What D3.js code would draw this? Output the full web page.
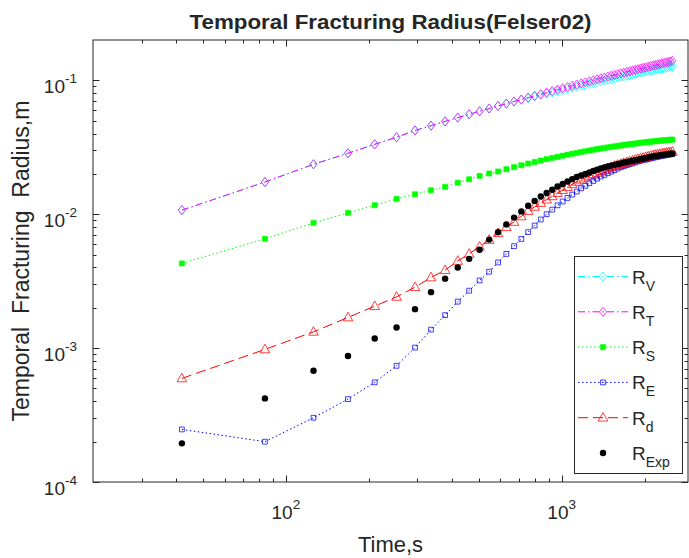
<!DOCTYPE html>
<html><head><meta charset="utf-8">
<script src="https://cdn.jsdelivr.net/npm/d3@7"></script>
<style>
body{margin:0;background:#fff}
svg{display:block}
text{font-family:"Liberation Sans",Arial,sans-serif;fill:#262626}
</style></head>
<body><svg id="chart" width="689" height="558"></svg>
<script>
const time = [42,84,126,168,210,252,294,336,378,420,462,504,546,588,630,672,714,756,798,840,
  882,924,966,1008,1050,1092,1134,1176,1218,1260,1302,1344,1386,1428,1470,1512,1554,1596,1638,1680,
  1722,1764,1806,1848,1890,1932,1974,2016,2058,2100,2142,2184,2226,2268,2310,2352,2394,2436,2478,2520];

const R_V = [0.01072,0.01738,0.0236,0.02851,0.03327,0.03758,0.04217,0.04586,0.04932,0.05262,
  0.05572,0.0587,0.06157,0.06431,0.06694,0.06943,0.07155,0.07365,0.07567,0.07761,
  0.07945,0.08124,0.08305,0.0847,0.08638,0.08801,0.08956,0.09112,0.09258,0.09408,
  0.09546,0.0969,0.09829,0.09954,0.1009,0.1022,0.1034,0.1047,0.1059,0.107,
  0.1083,0.1094,0.1104,0.1116,0.1127,0.1138,0.1148,0.1158,0.1169,0.1179,
  0.1189,0.1199,0.1208,0.1218,0.1227,0.1237,0.1246,0.1254,0.1264,0.1272];

const R_T = [0.01072,0.01738,0.0236,0.02851,0.03327,0.03758,0.04217,0.04586,0.04932,0.05262,
  0.05572,0.0587,0.06157,0.06431,0.06694,0.06948,0.07189,0.0743,0.07664,0.07887,
  0.081,0.08309,0.08522,0.08716,0.08915,0.09106,0.0929,0.09476,0.09652,0.09831,
  0.09998,0.1017,0.1034,0.1049,0.1066,0.1081,0.1096,0.1112,0.1127,0.1141,
  0.1156,0.117,0.1183,0.1197,0.1211,0.1225,0.1238,0.125,0.1263,0.1276,
  0.1289,0.1301,0.1313,0.1325,0.1337,0.1349,0.1361,0.1371,0.1384,0.1394];

const R_S = [0.00429,0.00655,0.00861,0.01023,0.01167,0.013,0.01409,0.0151,0.016,0.01718,
  0.01824,0.01932,0.02014,0.02084,0.02168,0.02246,0.02319,0.02389,0.02456,0.02518,
  0.02576,0.02631,0.02686,0.02735,0.02783,0.02829,0.02871,0.02913,0.02951,0.0299,
  0.03025,0.0306,0.03094,0.03123,0.03153,0.03182,0.03209,0.03236,0.03261,0.03285,
  0.03309,0.0333,0.03351,0.03372,0.03391,0.03412,0.03429,0.03446,0.03462,0.03479,
  0.03495,0.03509,0.03523,0.03537,0.0355,0.03563,0.03575,0.03586,0.03598,0.03608];

const R_E = [0.000247,0.0002,0.000302,0.000416,0.000555,0.000738,0.001009,0.001374,0.001763,0.002223,
  0.002685,0.0032,0.00372,0.00436,0.00505,0.00577,0.00653,0.00735,0.00823,0.00913,
  0.01,0.01082,0.01165,0.01244,0.01323,0.01401,0.01477,0.01561,0.01629,0.01703,
  0.01772,0.01844,0.01911,0.01965,0.02023,0.02079,0.02134,0.02193,0.02243,0.02286,
  0.02325,0.02361,0.02398,0.02435,0.02473,0.02508,0.02533,0.02556,0.02582,0.02609,
  0.02636,0.02658,0.02682,0.02705,0.02724,0.02743,0.02762,0.02776,0.02795,0.02809];

const R_d = [0.000594,0.000978,0.001323,0.001695,0.002058,0.002414,0.002851,0.00337,0.00382,0.00448,
  0.00506,0.00572,0.00642,0.00721,0.008,0.00875,0.00963,0.01056,0.01135,0.01212,
  0.01285,0.0136,0.01439,0.01515,0.01596,0.01675,0.01745,0.01812,0.01872,0.01931,
  0.01988,0.0204,0.02093,0.02141,0.02197,0.0225,0.02297,0.02337,0.02373,0.0241,
  0.02448,0.02482,0.02516,0.02551,0.02582,0.02613,0.0264,0.02668,0.02696,0.02724,
  0.02752,0.02776,0.02795,0.02814,0.02833,0.02852,0.02872,0.02887,0.02907,0.02922];

const R_Exp = [0.0001944,0.000421,0.000677,0.000872,0.001181,0.001427,0.001954,0.002617,0.0033,0.004,
  0.00464,0.00543,0.00646,0.00734,0.00839,0.00943,0.01049,0.01156,0.01257,0.01355,
  0.01439,0.01523,0.01609,0.01683,0.01757,0.01828,0.01894,0.01948,0.01998,0.0205,
  0.02101,0.02152,0.02201,0.02239,0.02274,0.02306,0.02337,0.02369,0.02398,0.02431,
  0.02456,0.02482,0.02508,0.02529,0.02556,0.02582,0.02604,0.02631,0.02658,0.02682,
  0.02705,0.02724,0.02738,0.02752,0.02771,0.02785,0.02799,0.02814,0.02828,0.02843];

const xMajor = [100, 1000];
const xMajorLabels = ["2", "3"];
const yMajor = [1e-4, 1e-3, 1e-2, 1e-1];
const yMajorLabels = ["-4", "-3", "-2", "-1"];
const legendLabels = [["R","V"],["R","T"],["R","S"],["R","E"],["R","d"],["R","Exp"]];

const titleText = "Temporal Fracturing Radius(Felser02)";
const xLabelText = "Time,s";
const yLabelText = "Temporal  Fracturing  Radius,m";

const L = 93, R = 688, T = 40, B = 482;
const svg = d3.select("#chart");
const x = d3.scaleLog().domain([20, 2870]).range([L, R]);
const y = d3.scaleLog().domain([1e-4, 0.2]).range([B, T]);

const xMinor = [], yMinor = [];
for (const d of [10, 100, 1000]) for (let m = 2; m <= 9; m++) { const v = d*m; if (v > 20 && v < 2870) xMinor.push(v); }
for (const d of [1e-4, 1e-3, 1e-2, 1e-1]) for (let m = 2; m <= 9; m++) { const v = d*m; if (v < 0.2) yMinor.push(v); }

const axisColor = "#262626";
const g = svg.append("g");

const series = [
  {name:"V", data:R_V, color:"#00ffff", dash:"7,3,1.5,3", marker:"diamond", fill:"none"},
  {name:"T", data:R_T, color:"#ff00ff", dash:"7,3,1.5,3", marker:"diamond", fill:"none"},
  {name:"S", data:R_S, color:"#00ff00", dash:"1.5,2.5", marker:"square", fill:"#00ff00"},
  {name:"E", data:R_E, color:"#0000ff", dash:"1.5,2.5", marker:"smallsquare", fill:"none"},
  {name:"d", data:R_d, color:"#ff0000", dash:"10,5", marker:"triangle", fill:"none"},
  {name:"Exp", data:R_Exp, color:"#000000", dash:null, marker:"dot", fill:"#000000"}
];

function markerPath(type) {
  switch (type) {
    case "diamond": return "M0,-4.6L3.6,0L0,4.6L-3.6,0Z";
    case "square": return "M-2.6,-2.6H2.6V2.6H-2.6Z";
    case "smallsquare": return "M-2.4,-2.4H2.4V2.4H-2.4Z";
    case "triangle": return "M0,-5.2L4.8,3.4H-4.8Z";
    case "dot": return "M3.2,0A3.2,3.2 0 1,1 -3.2,0A3.2,3.2 0 1,1 3.2,0Z";
  }
}
function markerStyle(sel, s) {
  sel.attr("d", markerPath(s.marker))
     .attr("fill", s.fill)
     .attr("stroke", s.marker === "dot" ? "none" : s.color)
     .attr("stroke-width", s.marker === "square" ? 0.5 : 1)
     .attr("stroke-opacity", s.marker === "square" ? 1 : 0.75);
}

const line = d3.line().x((d, i) => x(time[i])).y(d => y(d));
const plot = g.append("g");
series.forEach(s => {
  if (s.dash) {
    plot.append("path").datum(s.data).attr("d", line)
      .attr("fill", "none").attr("stroke", s.color).attr("stroke-width", 1)
      .attr("stroke-dasharray", s.dash);
  }
  plot.append("g").selectAll("path").data(s.data).join("path")
    .attr("transform", (d, i) => `translate(${x(time[i])},${y(d)})`)
    .call(markerStyle, s);
});

const ax = g.append("g").attr("stroke", axisColor).attr("stroke-width", 1).attr("fill", "none");
ax.append("rect").attr("x", L).attr("y", T).attr("width", R - L).attr("height", B - T);
function tickX(v, len) {
  const px = Math.round(x(v)) + 0.5;
  ax.append("line").attr("x1", px).attr("x2", px).attr("y1", B).attr("y2", B - len);
  ax.append("line").attr("x1", px).attr("x2", px).attr("y1", T).attr("y2", T + len);
}
function tickY(v, len) {
  const py = Math.round(y(v)) + 0.5;
  ax.append("line").attr("y1", py).attr("y2", py).attr("x1", L).attr("x2", L + len);
  ax.append("line").attr("y1", py).attr("y2", py).attr("x1", R).attr("x2", R - len);
}
xMinor.forEach(v => tickX(v, 3.5));
xMajor.forEach(v => tickX(v, 6.5));
yMinor.forEach(v => tickY(v, 3.5));
yMajor.forEach(v => tickY(v, 6.5));

xMajor.forEach((v, i) => {
  const t = g.append("text").attr("x", x(v)).attr("y", 519).attr("text-anchor", "middle").attr("font-size", 19);
  t.append("tspan").text("10");
  t.append("tspan").attr("dy", -10).attr("font-size", 13.5).text(xMajorLabels[i]);
});
yMajor.forEach((v, i) => {
  const t = g.append("text").attr("x", 77).attr("y", y(v) + 13).attr("text-anchor", "end").attr("font-size", 19);
  t.append("tspan").text("10");
  t.append("tspan").attr("dy", -10).attr("font-size", 13.5).text(yMajorLabels[i]);
});

g.append("text").attr("x", (L + R) / 2).attr("y", 29).attr("text-anchor", "middle")
  .attr("font-size", 21).attr("font-weight", "bold").attr("fill", "#000")
  .attr("textLength", 402).attr("lengthAdjust", "spacingAndGlyphs").text(titleText);
g.append("text").attr("x", (L + R) / 2).attr("y", 552).attr("text-anchor", "middle")
  .attr("font-size", 22).text(xLabelText);
g.append("text").attr("transform", `translate(29,${(T + B) / 2}) rotate(-90)`)
  .attr("text-anchor", "middle").attr("font-size", 23).style("white-space", "pre").text(yLabelText);

const lg = g.append("g");
const lgX = 574, lgY = 256, lgW = 108, lgH = 217;
lg.append("rect").attr("x", lgX + 0.5).attr("y", lgY + 0.5).attr("width", lgW).attr("height", lgH)
  .attr("fill", "#fff").attr("stroke", axisColor).attr("stroke-width", 1);
series.forEach((s, i) => {
  const cy = 276.5 + i * 35.3;
  if (s.dash) {
    lg.append("line").attr("x1", 578).attr("x2", 628).attr("y1", cy).attr("y2", cy)
      .attr("stroke", s.color).attr("stroke-width", 1).attr("stroke-dasharray", s.dash);
  }
  lg.append("path").attr("transform", `translate(603,${cy})`).call(markerStyle, s);
  const t = lg.append("text").attr("x", 632).attr("y", cy + 7).attr("font-size", 19);
  t.append("tspan").text(legendLabels[i][0]);
  t.append("tspan").attr("dy", 7).attr("font-size", 14).text(legendLabels[i][1]);
});
</script></body></html>
